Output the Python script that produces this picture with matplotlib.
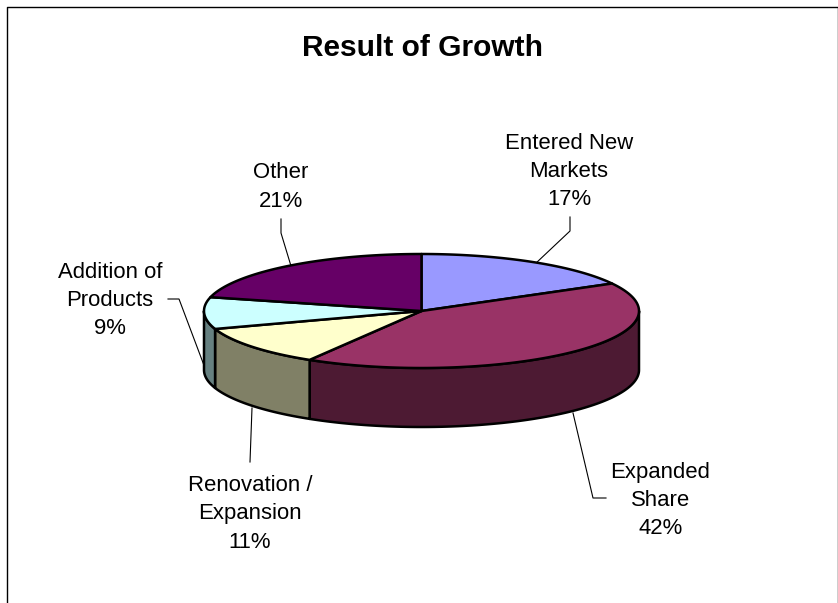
import numpy as np
import matplotlib
matplotlib.use("Agg")
import matplotlib.pyplot as plt
from matplotlib.patches import Polygon

plt.rcParams['font.family'] = ['Liberation Sans', 'DejaVu Sans']

TITLE = "Result of Growth"
categories = ["Entered New\nMarkets", "Expanded\nShare", "Renovation /\nExpansion", "Addition of\nProducts", "Other"]
values = [17.0, 41.6, 11.3, 9.0, 21.1]
top_colors = ["#9999FF", "#993366", "#FFFFCC", "#CCFFFF", "#660066"]
side_colors = ["#4D4D80", "#4D1A33", "#808066", "#668080", "#330033"]

W, H = 838, 603
cx, cy, rx, ry, depth = 421.5, 311.0, 217.5, 57.0, 59.0
EDGE = 2.5 * 72 / 100
FONT = 15.9

fig = plt.figure(figsize=(W / 100, H / 100), dpi=100, facecolor="white")
ax = fig.add_axes([0, 0, 1, 1])
ax.set_xlim(0, W)
ax.set_ylim(H, 0)
ax.axis("off")


def rim(a, b, dy=0.0):
    t = np.radians(np.linspace(a, b, max(int(abs(b - a) * 2), 2)))
    return np.column_stack([cx + rx * np.sin(t), cy - ry * np.cos(t) + dy])


# frame (runs off the bottom of the picture)
ax.plot([6.5, 6.5, 837.5, 837.5], [H + 5, 6.5, 6.5, H + 5], color="black", lw=1.0, clip_on=True)

bounds = np.concatenate([[0], np.cumsum(values)]) / sum(values) * 360

# side walls (only the front half of the disc shows them)
for i in range(len(values)):
    a, b = max(bounds[i], 90), min(bounds[i + 1], 270)
    if a < b:
        pts = np.vstack([rim(a, b), rim(b, a, depth)])
        ax.add_patch(Polygon(pts, closed=True, fc=side_colors[i], ec="black", lw=EDGE, joinstyle="round", zorder=2))

# top faces
for i in range(len(values)):
    pts = np.vstack([[[cx, cy]], rim(bounds[i], bounds[i + 1])])
    ax.add_patch(Polygon(pts, closed=True, fc=top_colors[i], ec="black", lw=EDGE, joinstyle="round", zorder=3))

# data labels and their leader lines
label_xy = [(569, 171.5), (660.5, 500.5), (250, 514), (110, 300.5), (281, 187)]
leaders = [
    [(570, 217), (570, 231), (535, 264)],
    [(606, 498), (593, 498), (573, 413)],
    [(250, 462), (252, 408)],
    [(168, 299), (179, 299), (205, 368)],
    [(281, 219), (281, 233), (291, 266)],
]
for name, v, (x, y), path in zip(categories, values, label_xy, leaders):
    ax.text(x, y, f"{name}\n{round(v)}%", ha="center", va="center", multialignment="center",
            fontsize=FONT, linespacing=1.46, color="black", zorder=5)
    xs, ys = zip(*path)
    ax.plot(xs, ys, color="black", lw=0.8, zorder=1)

ax.text(422.5, 47.5, TITLE, ha="center", va="center", fontsize=21.5, fontweight="bold", color="black", zorder=5)

fig.savefig("out.png", dpi=100, facecolor="white")
